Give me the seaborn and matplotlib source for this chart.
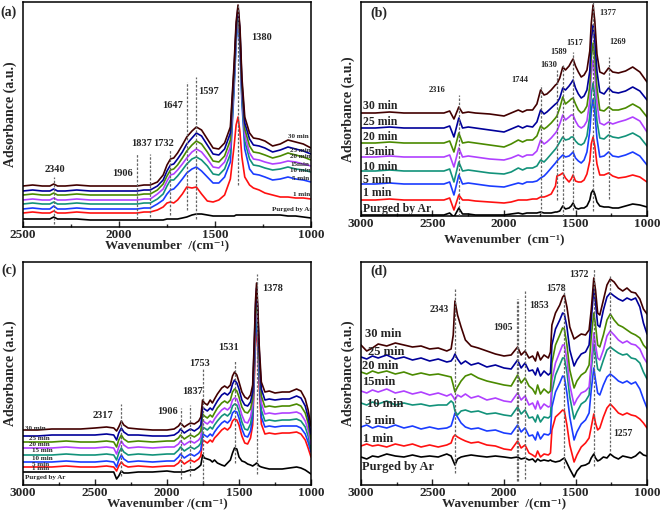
import matplotlib
matplotlib.use("Agg")
import matplotlib.pyplot as plt
import seaborn as sns
import pandas as pd
from matplotlib.ticker import MultipleLocator

# --------------------------------------
# Data (absorbance in a.u., stacked as drawn)
# --------------------------------------
labels = ["Purged by Ar", "1 min", "5 min", "10 min", "15 min", "20 min", "25 min", "30 min"]
colors = ["#000000", "#ff1010", "#1a3cff", "#12927a", "#b040ff", "#4a8a00", "#00009a", "#420000"]

# panel (a)
a_wn = [2500, 2450, 2400, 2360, 2340, 2320, 2280, 2220, 2150, 2080, 2000, 1950, 1906, 1870, 1837,
        1800, 1770, 1750, 1732, 1715, 1695, 1670, 1647, 1620, 1597, 1570, 1540, 1510, 1480, 1450,
        1420, 1400, 1390, 1380, 1370, 1360, 1345, 1320, 1300, 1270, 1240, 1200, 1160, 1120, 1080,
        1040, 1000]
a_ar = [8, 8, 8, 8, 10, 8, 8, 8, 7, 7, 7, 7, 7, 7, 7,
        7, 7, 8, 8, 8, 8, 9, 10, 12, 13, 13, 12, 11, 11, 11,
        11, 11, 12, 12, 12, 12, 12, 12, 12, 12, 12, 12, 12, 11, 11,
        10, 9]
a_1 = [14, 15, 14, 14, 16, 14, 14, 15, 14, 14, 14, 14, 14, 15, 15,
       17, 20, 24, 25, 24, 27, 33, 40, 39, 40, 33, 26, 25, 27, 32,
       48, 82, 102, 110, 95, 70, 50, 42, 39, 37, 34, 32, 30, 30, 29,
       29, 28]
a_5 = [18, 19, 18, 18, 21, 18, 18, 19, 18, 18, 18, 18, 18, 19, 19,
       23, 27, 33, 37, 38, 42, 48, 54, 58, 60, 56, 50, 44, 44, 50,
       65, 140, 184, 208, 180, 125, 78, 58, 53, 52, 50, 47, 48, 50, 48,
       47, 45]
a_10 = [23, 24, 23, 23, 25, 23, 23, 24, 23, 23, 23, 23, 23, 24, 24,
        28, 33, 41, 47, 47, 51, 57, 63, 68, 70, 67, 61, 53, 52, 58,
        73, 145, 188, 211, 184, 130, 86, 68, 62, 61, 59, 57, 58, 60, 58,
        57, 55]
a_15 = [27, 28, 27, 27, 29, 27, 27, 28, 27, 27, 27, 27, 27, 28, 28,
        33, 38, 46, 52, 53, 57, 63, 69, 75, 78, 75, 68, 60, 59, 65,
        80, 150, 192, 214, 188, 135, 92, 74, 68, 67, 65, 63, 64, 66, 65,
        63, 61]
a_20 = [32, 33, 32, 32, 34, 32, 32, 33, 32, 32, 32, 32, 32, 33, 33,
        37, 43, 51, 57, 58, 62, 69, 76, 82, 86, 83, 75, 66, 65, 71,
        87, 155, 196, 217, 192, 140, 98, 81, 75, 74, 72, 69, 71, 74, 72,
        70, 67]
a_25 = [36, 37, 36, 36, 38, 36, 36, 37, 36, 36, 36, 36, 36, 37, 37,
        41, 47, 56, 62, 63, 68, 75, 83, 89, 94, 91, 82, 73, 72, 78,
        94, 160, 200, 220, 196, 145, 104, 88, 82, 81, 79, 75, 77, 80, 78,
        76, 73]
a_30 = [41, 42, 41, 41, 43, 41, 41, 42, 41, 41, 41, 41, 41, 42, 42,
        45, 52, 62, 68, 69, 74, 82, 90, 96, 100, 97, 88, 79, 78, 84,
        100, 165, 205, 222, 200, 150, 110, 94, 89, 88, 86, 81, 83, 87, 85,
        83, 79]

# panel (b)
b_wn = [3000, 2900, 2800, 2700, 2600, 2500, 2420, 2380, 2350, 2316, 2290, 2250, 2200, 2100, 2000,
        1950, 1900, 1870, 1840, 1800, 1770, 1744, 1720, 1700, 1670, 1640, 1630, 1610, 1589, 1570,
        1545, 1530, 1517, 1500, 1480, 1460, 1440, 1420, 1400, 1390, 1377, 1365, 1350, 1330, 1300,
        1269, 1240, 1200, 1150, 1100, 1050, 1000]
b_ar = [1, 1, 1, 1, 1, 1, 1, 3, -1, 8, 2, 2, 1, 1, 1,
        2, 3, 2, 3, 3, 3, 4, 3, 3, 3, 4, 4, 5, 10, 7,
        8, 10, 13, 8, 7, 8, 8, 10, 16, 23, 26, 22, 14, 10, 9,
        9, 8, 8, 10, 12, 11, 9]
b_1 = [16, 16, 17, 16, 16, 16, 16, 18, 6, 21, 16, 16, 15, 14, 13,
       14, 16, 16, 16, 17, 17, 19, 19, 20, 22, 30, 40, 41, 43, 38,
       34, 37, 41, 35, 34, 34, 36, 42, 55, 72, 79, 70, 52, 41, 41,
       43, 40, 38, 39, 41, 39, 34]
b_5 = [32, 32, 33, 32, 32, 32, 32, 34, 21, 41, 32, 33, 32, 30, 29,
       31, 33, 32, 34, 34, 35, 38, 40, 43, 48, 53, 55, 58, 61, 59,
       60, 62, 64, 58, 55, 53, 56, 64, 85, 105, 117, 103, 78, 59, 60,
       64, 60, 59, 61, 64, 60, 51]
b_10 = [45, 45, 46, 45, 45, 45, 45, 47, 34, 54, 45, 46, 45, 43, 42,
        44, 48, 46, 48, 48, 50, 56, 54, 57, 62, 67, 69, 74, 79, 76,
        77, 79, 79, 75, 72, 71, 73, 80, 100, 122, 133, 120, 95, 78, 77,
        81, 79, 78, 80, 83, 79, 70]
b_15 = [59, 59, 60, 59, 59, 59, 59, 61, 49, 68, 59, 60, 59, 57, 56,
        58, 61, 59, 61, 61, 65, 76, 72, 74, 78, 83, 85, 92, 101, 96,
        99, 101, 101, 95, 90, 88, 90, 95, 115, 142, 156, 142, 113, 93, 91,
        94, 92, 94, 96, 99, 95, 84]
b_20 = [73, 73, 74, 73, 73, 73, 73, 75, 64, 83, 73, 74, 73, 71, 69,
        72, 76, 74, 76, 76, 80, 90, 87, 89, 93, 98, 100, 108, 119, 112,
        115, 117, 118, 112, 106, 103, 105, 110, 130, 158, 173, 158, 128, 106, 105,
        109, 106, 106, 108, 112, 108, 99]
b_25 = [88, 88, 89, 88, 88, 88, 88, 90, 79, 98, 88, 89, 88, 86, 84,
        87, 90, 88, 90, 89, 94, 106, 102, 104, 108, 112, 113, 118, 128, 126,
        130, 133, 136, 128, 122, 118, 120, 126, 145, 175, 191, 175, 145, 124, 122,
        128, 124, 123, 125, 129, 125, 116]
b_30 = [103, 103, 104, 103, 103, 103, 103, 105, 97, 109, 103, 104, 103, 102, 100,
        103, 106, 104, 106, 106, 112, 126, 121, 122, 126, 131, 132, 138, 149, 146,
        150, 154, 157, 150, 144, 139, 141, 146, 165, 192, 211, 195, 162, 144, 142,
        148, 144, 143, 145, 149, 144, 134]

# panel (c)
c_wn = [3000, 2900, 2800, 2700, 2600, 2500, 2420, 2370, 2350, 2335, 2317, 2300, 2270, 2200, 2100,
        2000, 1950, 1920, 1906, 1880, 1860, 1837, 1810, 1780, 1765, 1753, 1740, 1720, 1700, 1685,
        1670, 1650, 1620, 1600, 1580, 1560, 1545, 1531, 1515, 1500, 1480, 1460, 1440, 1420, 1405,
        1395, 1385, 1378, 1370, 1360, 1345, 1320, 1290, 1250, 1200, 1150, 1100, 1070, 1040, 1020,
        1000]
c_ar = [13, 13, 13, 13, 13, 13, 13, 13, 6, 9, 14, 12, 12, 13, 13,
        14, 13, 13, 13, 13, 14, 15, 15, 18, 20, 30, 27, 26, 25, 23,
        25, 22, 20, 19, 22, 25, 32, 37, 36, 28, 24, 23, 21, 20, 19,
        20, 21, 22, 21, 19, 18, 17, 16, 16, 16, 17, 18, 17, 15, 13,
        11]
c_1 = [18, 18, 18, 19, 18, 18, 19, 18, 14, 19, 23, 20, 18, 19, 18,
       19, 19, 22, 25, 21, 23, 25, 23, 26, 29, 45, 44, 42, 45, 43,
       47, 50, 55, 57, 55, 58, 64, 66, 65, 60, 49, 42, 41, 47, 60,
       100, 142, 160, 140, 100, 61, 51, 52, 51, 52, 52, 53, 51, 45, 37,
       28]
c_5 = [23, 23, 23, 24, 23, 23, 24, 23, 18, 25, 30, 26, 23, 24, 23,
       24, 24, 28, 31, 27, 29, 31, 29, 32, 35, 51, 50, 48, 51, 49,
       53, 57, 62, 64, 62, 65, 72, 74, 73, 67, 56, 49, 48, 54, 67,
       108, 150, 170, 148, 108, 68, 58, 59, 58, 59, 59, 59, 57, 51, 43,
       33]
c_10 = [30, 30, 30, 31, 30, 30, 31, 30, 25, 32, 37, 33, 30, 31, 30,
        31, 31, 35, 38, 34, 36, 38, 36, 39, 42, 58, 57, 55, 58, 56,
        60, 64, 69, 71, 69, 72, 79, 81, 80, 74, 63, 56, 55, 61, 74,
        115, 158, 178, 155, 115, 75, 64, 65, 64, 65, 65, 66, 64, 58, 49,
        36]
c_15 = [37, 37, 37, 38, 37, 37, 38, 37, 31, 38, 44, 40, 37, 38, 37,
        38, 38, 41, 44, 40, 42, 44, 42, 45, 48, 65, 63, 61, 64, 62,
        66, 70, 75, 77, 75, 78, 85, 87, 86, 80, 70, 63, 62, 68, 80,
        122, 166, 185, 162, 122, 82, 71, 72, 71, 72, 72, 73, 71, 64, 55,
        41]
c_20 = [43, 43, 43, 44, 43, 43, 44, 43, 38, 45, 50, 46, 43, 44, 43,
        44, 44, 47, 50, 46, 48, 50, 48, 51, 54, 71, 69, 67, 70, 68,
        72, 77, 82, 84, 82, 85, 93, 96, 94, 88, 78, 73, 72, 76, 86,
        128, 173, 191, 168, 128, 89, 78, 79, 78, 79, 79, 81, 79, 72, 62,
        46]
c_25 = [49, 49, 50, 50, 50, 50, 51, 50, 45, 52, 57, 53, 50, 50, 49,
        49, 50, 53, 56, 52, 54, 56, 54, 57, 60, 78, 76, 74, 77, 75,
        79, 84, 90, 92, 90, 93, 101, 105, 102, 96, 85, 80, 79, 83, 93,
        135, 180, 197, 175, 135, 96, 85, 86, 85, 86, 86, 89, 87, 79, 68,
        51]
c_30 = [55, 55, 56, 56, 56, 57, 58, 57, 54, 58, 64, 60, 57, 56, 55,
        55, 56, 59, 62, 58, 60, 62, 61, 64, 68, 85, 82, 80, 85, 82,
        86, 91, 97, 99, 97, 100, 109, 113, 110, 103, 93, 88, 86, 90, 100,
        140, 185, 202, 180, 140, 103, 93, 94, 92, 93, 93, 96, 94, 86, 75,
        59]

# panel (d)
d_wn = [3000, 2960, 2920, 2880, 2820, 2760, 2700, 2640, 2580, 2520, 2460, 2400, 2370, 2355, 2343,
        2325, 2300, 2270, 2230, 2180, 2120, 2060, 2000, 1950, 1905, 1880, 1853, 1825, 1800, 1780,
        1765, 1745, 1720, 1690, 1675, 1665, 1640, 1610, 1590, 1578, 1560, 1540, 1510, 1490, 1460,
        1430, 1405, 1390, 1372, 1360, 1345, 1330, 1305, 1280, 1257, 1230, 1200, 1170, 1140, 1110,
        1080, 1050, 1025, 1000]
d_ar = [28, 26, 29, 28, 31, 29, 28, 30, 28, 29, 28, 31, 29, 24, 20,
        26, 28, 29, 30, 29, 28, 29, 28, 27, 28, 26, 27, 25, 26, 23,
        26, 24, 25, 24, 25, 24, 23, 24, 26, 27, 22, 16, 8, 14, 19,
        20, 22, 27, 31, 27, 24, 25, 28, 27, 31, 28, 26, 29, 28, 27,
        29, 33, 30, 29]
d_1 = [39, 41, 39, 40, 38, 41, 39, 41, 38, 40, 38, 40, 42, 48, 50,
       48, 46, 44, 42, 43, 40, 39, 36, 35, 44, 37, 40, 32, 30, 28,
       34, 28, 31, 30, 32, 55, 68, 72, 75, 74, 60, 40, 23, 30, 38,
       42, 47, 58, 71, 62, 55, 57, 68, 77, 81, 77, 72, 70, 72, 70,
       69, 66, 62, 57]
d_5 = [58, 60, 57, 59, 57, 60, 57, 59, 56, 58, 56, 57, 59, 66, 72,
       68, 62, 58, 56, 57, 54, 55, 52, 51, 60, 53, 57, 49, 50, 45,
       53, 46, 51, 50, 52, 78, 93, 102, 109, 108, 92, 68, 45, 53, 61,
       65, 72, 95, 117, 105, 92, 90, 100, 108, 111, 108, 104, 102, 104, 101,
       103, 96, 86, 77]
d_10 = [82, 80, 83, 81, 84, 80, 82, 80, 81, 79, 80, 80, 84, 82, 74,
        70, 74, 75, 73, 74, 71, 72, 70, 69, 78, 71, 75, 67, 68, 63,
        70, 63, 68, 67, 69, 93, 110, 120, 127, 127, 113, 88, 66, 73, 81,
        84, 90, 115, 141, 130, 116, 114, 125, 135, 138, 135, 132, 130, 131, 127,
        126, 122, 113, 106]
d_15 = [94, 92, 95, 93, 96, 92, 94, 91, 93, 90, 92, 89, 91, 88, 85,
        90, 88, 91, 87, 89, 85, 87, 84, 83, 92, 85, 89, 80, 82, 76,
        84, 76, 81, 78, 79, 105, 122, 133, 140, 140, 126, 100, 80, 86, 92,
        94, 98, 122, 152, 140, 127, 125, 135, 149, 154, 150, 145, 142, 144, 141,
        140, 136, 128, 122]
d_20 = [113, 111, 114, 112, 114, 111, 113, 110, 112, 110, 111, 109, 108, 100, 93,
        98, 104, 109, 111, 107, 104, 102, 100, 99, 110, 102, 107, 99, 96, 91,
        100, 91, 96, 92, 94, 122, 140, 150, 157, 156, 140, 115, 97, 104, 110,
        113, 120, 148, 172, 160, 140, 138, 150, 165, 171, 165, 160, 158, 155, 152,
        150, 147, 140, 136]
d_25 = [128, 126, 129, 127, 130, 126, 128, 125, 127, 124, 126, 123, 124, 127, 131,
        126, 121, 124, 120, 122, 118, 120, 117, 116, 125, 117, 122, 114, 115, 110,
        117, 109, 114, 110, 112, 140, 156, 165, 172, 171, 158, 135, 119, 125, 131,
        133, 140, 165, 196, 182, 160, 158, 175, 188, 192, 189, 186, 184, 187, 185,
        187, 178, 162, 151]
d_30 = [140, 134, 137, 141, 139, 142, 140, 138, 139, 136, 137, 134, 136, 150, 184,
        170, 158, 145, 139, 137, 134, 131, 129, 130, 138, 130, 134, 127, 129, 124,
        133, 125, 130, 127, 133, 160, 172, 180, 188, 190, 178, 158, 146, 148, 151,
        150, 155, 175, 207, 195, 172, 170, 185, 200, 206, 203, 197, 194, 197, 193,
        192, 186, 176, 171]

# band positions marked with dashed guides (wavenumber, lower, upper)
a_bands = [(2340, 3, 50), (1906, 8, 73), (1837, 10, 73), (1732, 12, 77), (1647, 17, 145), (1597, 8, 150), (1380, 42, 222)]
b_bands = [(2316, 0, 121), (1744, 3, 131), (1630, 16, 146), (1589, 0, 151), (1517, 6, 164), (1377, 5, 214), (1269, 17, 159)]
c_bands = [(2317, 9, 81), (1906, 6, 77), (1837, 9, 80), (1753, 2, 116), (1531, 22, 124), (1378, 11, 211)]
d_bands = [(2343, 12, 196), (1910, 4, 186), (1900, 4, 186), (1853, 6, 194), (1578, 17, 199), (1372, 19, 216), (1257, 34, 209)]

# band labels (text, wavenumber, height)
a_peaks = [("2340", 2333, 58), ("1906", 1984, 54), ("1837", 1880, 84), ("1732", 1766, 83),
           ("1647", 1719, 122), ("1597", 1536, 136), ("1380", 1255, 190)]
b_peaks = [("2316", 2469, 126), ("1744", 1888, 136), ("1630", 1685, 151), ("1589", 1615, 164),
           ("1517", 1503, 173), ("1377", 1273, 203), ("1269", 1203, 174)]
c_peaks = [("2317", 2444, 69), ("1906", 2000, 73), ("1837", 1819, 94), ("1753", 1771, 122),
           ("1531", 1576, 137), ("1378", 1264, 196)]
d_peaks = [("2343", 2455, 176), ("1905", 2007, 157), ("1853", 1755, 179), ("1578", 1636, 196),
           ("1372", 1476, 210), ("1257", 1168, 52)]

# curve labels (text, wavenumber of left edge, height)
a_names = [("30 min", 1120, 90), ("25 min", 1109, 77), ("20 min", 1109, 70), ("15min", 1109, 63),
           ("10 min", 1109, 56), ("5 min", 1100, 49), ("1 min", 1095, 33), ("Purged by Ar", 1203, 17)]
b_names = [("30 min", 2985, 110), ("25 min", 2985, 94), ("20 min", 2985, 79), ("15min", 2985, 64),
           ("10 min", 2985, 49), ("5 min", 2985, 36), ("1 min", 2985, 23), ("Purged by Ar", 2985, 7)]
c_names = [("30 min", 2986, 57), ("25 min", 2960, 47), ("20 min", 2960, 40), ("15 min", 2940, 34),
           ("10 min", 2940, 27), ("5 min", 2940, 21), ("1 min", 2940, 16), ("Purged by Ar", 2986, 8)]
d_names = [("30 min", 2972, 151), ("25 min", 2951, 133), ("20 min", 2993, 119), ("15min", 2993, 103),
           ("10 min", 2958, 81), ("5 min", 2972, 64), ("1 min", 2986, 46), ("Purged by Ar", 2993, 18)]

sns.set_theme(style="ticks")
plt.rcParams["font.family"] = ["Liberation Serif", "DejaVu Serif"]
plt.rcParams["font.weight"] = "bold"

W, H = 661, 514
fig = plt.figure(figsize=(W / 100, H / 100), dpi=100)


def add_panel(left, top, right, bottom):
    return fig.add_axes([left / W, 1 - bottom / H, (right - left) / W, (bottom - top) / H])


def draw_panel(ax, wn, curves, bands, peaks, names, xlim, xlabel, xpad, name_size, peak_size, letter, letter_xy):
    rows = []
    for lab, vals in zip(labels, curves):
        for w, v in zip(wn, vals):
            rows.append({"wn": w, "abs": v, "time": lab})
    df = pd.DataFrame(rows)
    sns.lineplot(data=df, x="wn", y="abs", hue="time", palette=dict(zip(labels, colors)),
                 estimator=None, sort=False, legend=False, linewidth=1.2, ax=ax)

    for w, lo, hi in bands:
        ax.plot([w, w], [lo, hi], color="#666666", lw=0.9, ls=(0, (2, 1.3)), zorder=5)
    for txt, w, h in peaks:
        ax.text(w, h, txt, fontsize=peak_size, fontweight="bold", ha="center", va="center")
    for txt, w, h in names:
        ax.text(w, h, txt, fontsize=name_size, fontweight="bold", ha="left", va="center", clip_on=True)

    ax.set_xlim(*xlim)
    ax.set_ylim(0, ax.get_position().height * H)
    ax.set_yticks([])
    ax.xaxis.set_major_locator(MultipleLocator(500))
    ax.xaxis.set_minor_locator(MultipleLocator(250))
    ax.tick_params(axis="x", which="both", direction="in", labelsize=9.5, pad=1.5)
    ax.tick_params(axis="x", which="major", length=4, width=1)
    ax.tick_params(axis="x", which="minor", length=2.5, width=1)
    for lbl in ax.get_xticklabels():
        lbl.set_fontweight("bold")
    for sp in ax.spines.values():
        sp.set_visible(True)
        sp.set_linewidth(1.1)
        sp.set_color("black")
    ax.set_xlabel(xlabel, fontsize=9.5, fontweight="bold", labelpad=xpad)
    ax.set_ylabel("Adsorbance (a.u.)", fontsize=10, fontweight="bold", labelpad=4)
    fig.text(letter_xy[0] / W, 1 - letter_xy[1] / H, letter, fontsize=10, fontweight="bold",
             ha="left", va="center")


ax_a = add_panel(23, 2, 311, 227)
ax_b = add_panel(361, 2, 647, 216)
ax_c = add_panel(23, 262, 311, 485)
ax_d = add_panel(361, 262, 647, 485)

draw_panel(ax_a, a_wn, [a_ar, a_1, a_5, a_10, a_15, a_20, a_25, a_30], a_bands, a_peaks, a_names,
           (2500, 1000), "Wavenumber  /(cm\u207b\u00b9)", -1, 5, 7.5, "(a)", (0, 12))
draw_panel(ax_b, b_wn, [b_ar, b_1, b_5, b_10, b_15, b_20, b_25, b_30], b_bands, b_peaks, b_names,
           (3000, 1000), "Wavenumber  (cm\u207b\u00b9)", 2, 8.5, 6, "(b)", (370, 13))
draw_panel(ax_c, c_wn, [c_ar, c_1, c_5, c_10, c_15, c_20, c_25, c_30], c_bands, c_peaks, c_names,
           (3000, 1000), "Wavenumber /(cm\u207b\u00b9)", -1, 5, 7.5, "(c)", (1, 270))
draw_panel(ax_d, d_wn, [d_ar, d_1, d_5, d_10, d_15, d_20, d_25, d_30], d_bands, d_peaks, d_names,
           (3000, 1000), "Wavenumber  /(cm\u207b\u00b9)", -1, 9, 7, "(d)", (370, 271))

fig.savefig("out.png", dpi=100)
